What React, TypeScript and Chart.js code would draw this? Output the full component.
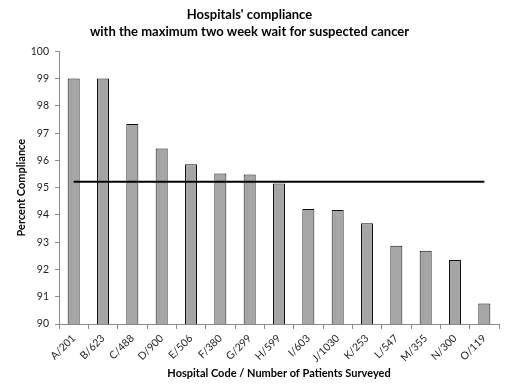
import React, { useEffect, useRef } from "react";
import { Chart, registerables } from "chart.js";

Chart.register(...registerables);

// Hospital code / number of patients surveyed
const hospitals = [
  "A/201", "B/623", "C/488", "D/900", "E/506", "F/380", "G/299", "H/599",
  "I/603", "J/1030", "K/253", "L/547", "M/355", "N/300", "O/119",
];

// Percent of patients seen within two weeks
const compliance = [
  99.0, 99.0, 97.33, 96.44, 95.86, 95.52, 95.48, 95.15,
  94.22, 94.18, 93.69, 92.87, 92.69, 92.35, 90.75,
];

// Overall average compliance across all hospitals
const averageCompliance = 95.22;

const titleLines = [
  "Hospitals' compliance",
  "with the maximum two week wait for suspected cancer",
];
const xTitle = "Hospital Code / Number of Patients Surveyed";
const yTitle = "Percent Compliance";

const FONT = "Lato, 'Open Sans', sans-serif";
const AXIS_GRAY = "#8c8c8c";
const TEXT = "#1f1f1f";

export default function App() {
  const canvasRef = useRef<HTMLCanvasElement | null>(null);

  useEffect(() => {
    const canvas = canvasRef.current;
    if (!canvas) return;
    const chart = new Chart(canvas, {
      type: "bar",
      data: {
        labels: hospitals,
        datasets: [
          {
            type: "bar",
            data: compliance,
            backgroundColor: "#a6a6a6",
            borderColor: "#111111",
            borderWidth: 1,
            categoryPercentage: 1,
            barPercentage: 0.41,
            order: 2,
          },
          {
            type: "line",
            data: hospitals.map(() => averageCompliance),
            borderColor: "#000000",
            borderWidth: 2,
            pointRadius: 0,
            fill: false,
            order: 1,
          } as any,
        ],
      },
      options: {
        responsive: false,
        animation: false,
        devicePixelRatio: 1,
        layout: { padding: { left: 0, right: 9, top: 0, bottom: 0 } },
        plugins: {
          legend: { display: false },
          tooltip: { enabled: false },
          title: {
            display: true,
            text: titleLines,
            color: "#000000",
            font: { family: FONT, size: 13, weight: "bold", lineHeight: 1.3 },
            padding: { top: 6, bottom: 11.5 },
          },
        },
        scales: {
          x: {
            offset: true,
            grid: {
              offset: true,
              drawOnChartArea: false,
              drawTicks: true,
              tickLength: 5,
              color: AXIS_GRAY,
            },
            border: { display: true, color: AXIS_GRAY, width: 1 },
            ticks: {
              minRotation: 45,
              maxRotation: 45,
              autoSkip: false,
              color: TEXT,
              padding: 3,
              font: { family: FONT, size: 10.5 },
            },
            title: {
              display: true,
              text: xTitle,
              color: "#000000",
              font: { family: FONT, size: 11, weight: "bold", lineHeight: 1.2 },
              padding: { top: 0, bottom: 6 },
            },
            afterFit: (scale: any) => {
              scale.height = 62;
            },
          },
          y: {
            min: 90,
            max: 100,
            ticks: {
              stepSize: 1,
              color: TEXT,
              padding: 6,
              font: { family: FONT, size: 10.5 },
            },
            grid: {
              drawOnChartArea: false,
              drawTicks: true,
              tickLength: 4,
              color: AXIS_GRAY,
            },
            border: { display: true, color: AXIS_GRAY, width: 1 },
            title: {
              display: true,
              text: yTitle,
              color: "#000000",
              font: { family: FONT, size: 11, weight: "bold", lineHeight: 1.2 },
              padding: { top: 15, bottom: 0 },
            },
            afterFit: (scale: any) => {
              scale.width = 59;
            },
          },
        },
      },
    });
    return () => chart.destroy();
  }, []);

  return (
    <div style={{ position: "absolute", left: 0, top: 0, width: 508, height: 386, background: "#ffffff" }}>
      <canvas ref={canvasRef} width={508} height={386} />
    </div>
  );
}
